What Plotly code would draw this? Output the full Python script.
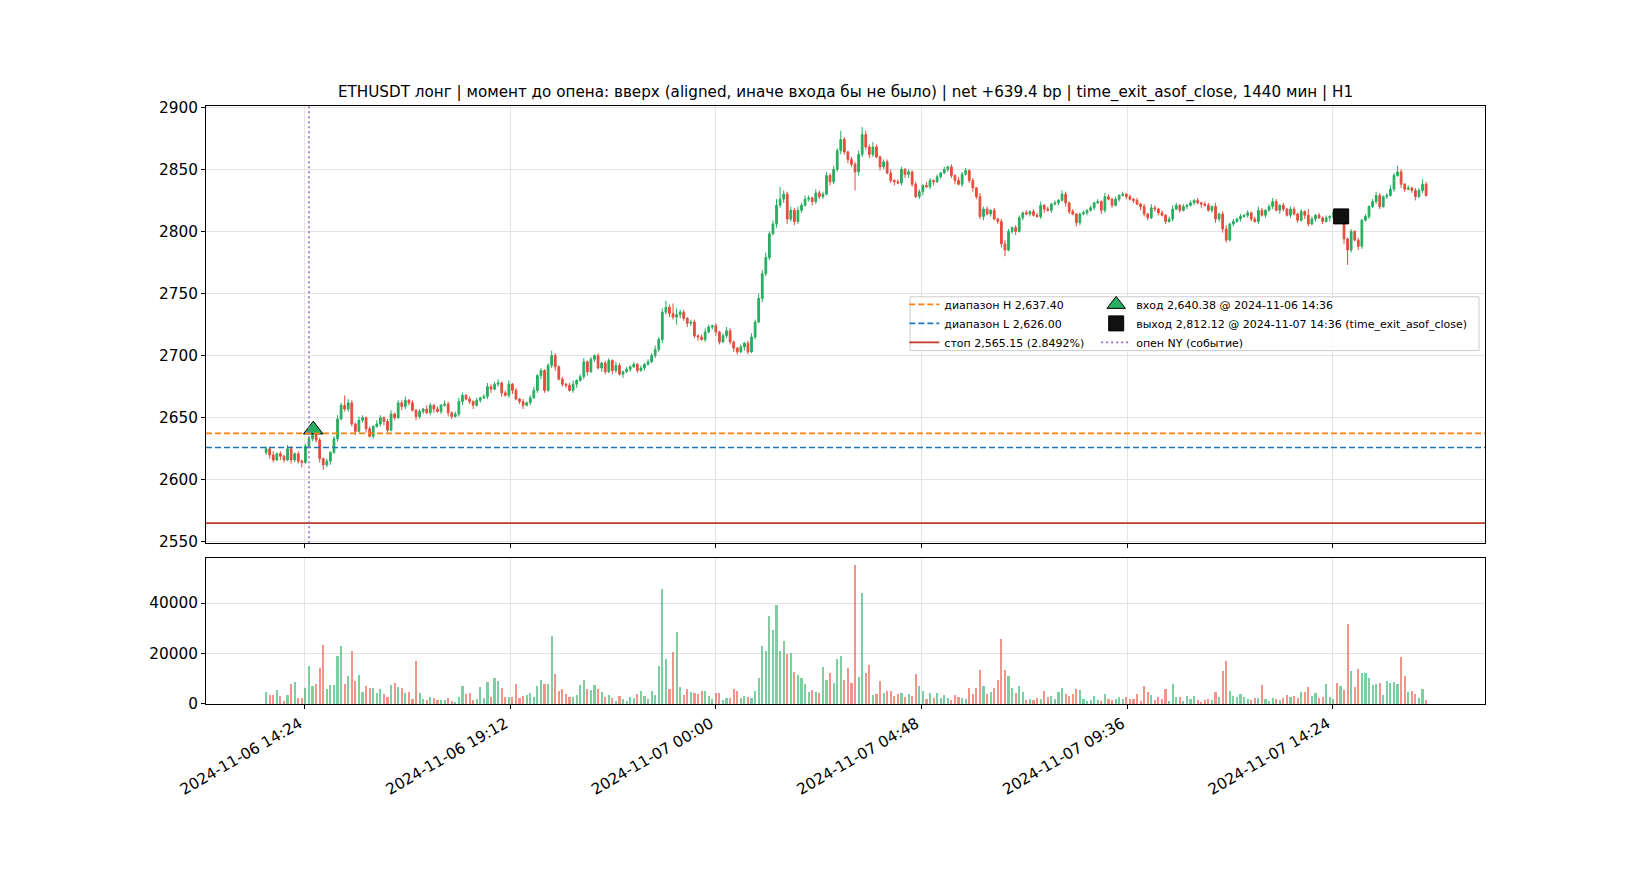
import plotly.graph_objects as go
import pandas as pd

# 5-minute candles, ETHUSDT
start = "2024-11-06 13:30"
n_bars = 326
times = pd.date_range(start, periods=n_bars, freq="5min")

first_open = 2622
closes = [
    2625, 2620, 2616, 2621, 2619, 2616, 2625, 2616, 2621, 2615, 2614, 2627,  # 13:30
    2633, 2636, 2632, 2617, 2612, 2615, 2622, 2633, 2649, 2660, 2657, 2662,  # 14:30
    2645, 2639, 2648, 2650, 2641, 2635, 2643, 2645, 2650, 2647, 2640, 2653,  # 15:30
    2650, 2662, 2659, 2664, 2662, 2656, 2651, 2655, 2657, 2654, 2660, 2657,  # 16:30
    2655, 2660, 2661, 2654, 2651, 2653, 2663, 2668, 2665, 2663, 2660, 2664,  # 17:30
    2666, 2667, 2675, 2673, 2677, 2678, 2670, 2668, 2677, 2672, 2665, 2663,  # 18:30
    2660, 2662, 2666, 2672, 2684, 2688, 2672, 2692, 2700, 2691, 2681, 2677,  # 19:30
    2676, 2672, 2677, 2680, 2683, 2695, 2687, 2697, 2700, 2690, 2694, 2687,  # 20:30
    2696, 2688, 2692, 2685, 2687, 2689, 2691, 2693, 2688, 2690, 2693, 2695,  # 21:30
    2700, 2705, 2713, 2735, 2739, 2734, 2731, 2733, 2735, 2730, 2726, 2727,  # 22:30
    2716, 2715, 2713, 2719, 2723, 2724, 2719, 2711, 2716, 2720, 2711, 2706,  # 23:30
    2703, 2707, 2710, 2703, 2715, 2727, 2746, 2766, 2779, 2798, 2806, 2821,  # 00:30
    2826, 2830, 2810, 2817, 2808, 2817, 2821, 2826, 2827, 2824, 2831, 2828,  # 01:30
    2830, 2845, 2840, 2850, 2865, 2874, 2864, 2858, 2854, 2848, 2862, 2878,  # 02:30
    2868, 2862, 2868, 2860, 2852, 2856, 2847, 2841, 2840, 2839, 2850, 2846,  # 03:30
    2848, 2838, 2828, 2832, 2837, 2836, 2841, 2840, 2844, 2847, 2850, 2852,  # 04:30
    2845, 2841, 2838, 2846, 2849, 2841, 2835, 2828, 2812, 2818, 2814, 2817,  # 05:30
    2810, 2808, 2790, 2785, 2800, 2803, 2800, 2811, 2815, 2814, 2816, 2813,  # 06:30
    2812, 2821, 2818, 2817, 2822, 2823, 2825, 2830, 2823, 2816, 2814, 2807,  # 07:30
    2814, 2815, 2817, 2819, 2823, 2824, 2817, 2828, 2826, 2821, 2826, 2829,  # 08:30
    2830, 2828, 2826, 2825, 2822, 2820, 2814, 2811, 2819, 2818, 2815, 2813,  # 09:30
    2808, 2810, 2818, 2821, 2817, 2820, 2821, 2823, 2825, 2823, 2822, 2821,  # 10:30
    2817, 2820, 2810, 2814, 2802, 2793, 2806, 2808, 2810, 2812, 2813, 2815,  # 11:30
    2810, 2808, 2817, 2813, 2817, 2820, 2824, 2817, 2821, 2818, 2813, 2818,  # 12:30
    2814, 2809, 2816, 2813, 2806, 2810, 2813, 2811, 2808, 2811, 2812, 2815,  # 13:30
    2811, 2813, 2794, 2785, 2800, 2793, 2788, 2809, 2812, 2820, 2824, 2829,  # 14:30
    2820, 2828, 2829, 2834, 2845, 2848, 2838, 2834, 2835, 2833, 2828, 2833,  # 15:30
    2838, 2829,                                                              # 16:30
]

# wick lengths above / below the body
wick_up = [
    2, 1, 3, 1, 2, 1, 3, 2, 1, 2, 1, 2,
    2, 4, 1, 2, 1, 2, 1, 2, 3, 2, 8, 3,
    2, 1, 3, 2, 1, 2, 1, 3, 2, 1, 2, 3,
    1, 2, 2, 3, 1, 2, 1, 2, 1, 3, 2, 1,
    2, 1, 3, 2, 1, 2, 3, 2, 1, 2, 1, 2,
    1, 2, 3, 2, 2, 3, 1, 2, 3, 1, 2, 1,
    2, 1, 2, 3, 1, 2, 1, 2, 4, 2, 1, 2,
    1, 2, 3, 1, 2, 3, 1, 2, 1, 2, 1, 2,
    2, 1, 3, 2, 1, 2, 1, 2, 1, 2, 1, 2,
    2, 3, 2, 3, 5, 2, 8, 5, 2, 2, 1, 2,
    2, 1, 2, 3, 2, 1, 2, 1, 2, 3, 2, 1,
    1, 2, 1, 2, 3, 2, 4, 3, 4, 2, 3, 5,
    10, 3, 2, 3, 2, 3, 2, 3, 2, 1, 3, 2,
    2, 3, 2, 3, 2, 7, 2, 1, 2, 2, 3, 6,
    3, 2, 4, 2, 1, 2, 2, 3, 1, 2, 2, 1,
    2, 1, 2, 2, 1, 3, 2, 1, 2, 1, 2, 1,
    2, 1, 3, 2, 2, 1, 2, 1, 3, 2, 2, 1,
    2, 1, 2, 3, 2, 1, 2, 2, 1, 2, 1, 2,
    2, 3, 1, 2, 1, 2, 1, 3, 2, 1, 2, 1,
    1, 2, 1, 2, 1, 2, 1, 3, 2, 1, 2, 1,
    2, 1, 2, 1, 2, 1, 2, 1, 3, 2, 1, 2,
    1, 2, 3, 2, 1, 2, 1, 2, 1, 2, 1, 2,
    2, 1, 3, 1, 2, 3, 1, 2, 1, 2, 1, 2,
    1, 2, 3, 2, 1, 2, 3, 2, 1, 2, 1, 2,
    2, 1, 2, 1, 5, 2, 1, 2, 1, 2, 1, 2,
    2, 3, 2, 1, 2, 1, 2, 1, 2, 1, 2, 3,
    2, 1, 2, 3, 2, 5, 2, 1, 2, 1, 2, 2,
    4, 2,
]
wick_dn = [
    2, 3, 2, 1, 3, 2, 1, 3, 2, 2, 4, 1,
    1, 2, 2, 3, 4, 2, 3, 1, 2, 1, 2, 2,
    2, 3, 1, 2, 3, 1, 2, 1, 2, 3, 2, 1,
    2, 1, 3, 2, 2, 1, 3, 2, 2, 1, 2, 3,
    1, 2, 1, 3, 2, 1, 2, 3, 1, 2, 3, 1,
    2, 1, 2, 3, 1, 2, 3, 1, 2, 3, 1, 2,
    3, 1, 2, 1, 2, 3, 2, 1, 2, 3, 1, 2,
    2, 1, 2, 3, 1, 2, 3, 1, 2, 1, 3, 2,
    1, 3, 2, 1, 3, 1, 2, 1, 2, 1, 2, 1,
    1, 2, 2, 3, 2, 3, 2, 6, 3, 2, 3, 2,
    2, 3, 1, 2, 1, 2, 3, 2, 1, 2, 2, 3,
    2, 1, 3, 2, 1, 2, 1, 3, 2, 2, 1, 3,
    2, 3, 4, 2, 3, 2, 2, 1, 2, 3, 2, 2,
    2, 1, 3, 2, 2, 3, 2, 3, 2, 15, 3, 2,
    2, 3, 2, 1, 3, 2, 1, 2, 3, 1, 2, 3,
    3, 2, 1, 2, 3, 1, 2, 3, 1, 2, 1, 2,
    2, 3, 1, 2, 1, 2, 3, 2, 2, 3, 1, 2,
    1, 2, 3, 5, 1, 2, 3, 1, 2, 1, 2, 1,
    1, 2, 3, 1, 2, 1, 2, 1, 3, 2, 1, 3,
    2, 1, 2, 1, 2, 1, 3, 2, 1, 2, 1, 2,
    1, 2, 1, 2, 1, 3, 2, 2, 1, 2, 2, 1,
    2, 1, 2, 1, 2, 1, 2, 1, 2, 1, 3, 1,
    1, 2, 3, 2, 3, 2, 1, 2, 1, 2, 1, 2,
    2, 1, 2, 1, 2, 1, 2, 1, 3, 2, 1, 2,
    1, 2, 1, 3, 2, 1, 2, 1, 2, 1, 3, 2,
    2, 1, 4, 12, 2, 1, 3, 2, 1, 2, 1, 2,
    2, 1, 2, 1, 2, 1, 3, 2, 1, 2, 3, 1,
    2, 1,
]

volumes = [
    4600, 3400, 3400, 5400, 3000, 1100, 3400, 7800, 8600, 2300, 2300, 6200,
    15000, 7000, 7800, 14200, 23300, 5800, 7400, 7400, 19000, 22900, 7800, 11000,
    20900, 9000, 11400, 4600, 7000, 6200, 6200, 4200, 5800, 3800, 2700, 7400,
    8200, 6600, 6200, 4200, 4600, 1900, 17000, 4200, 1900, 1500, 2700, 2300,
    1500, 1500, 1500, 2300, 1100, 700, 2700, 7000, 3800, 4200, 1500, 1900,
    6600, 2300, 8600, 2700, 10200, 9000, 6200, 2700, 2700, 2700, 7800, 2300,
    3000, 3400, 4200, 2700, 7000, 9400, 7800, 7800, 26900, 11800, 5000, 5800,
    3800, 2700, 2700, 3400, 7400, 9400, 5800, 5400, 7400, 5800, 4600, 2700,
    3400, 2300, 1100, 3000, 1900, 1100, 2700, 2300, 3800, 5000, 3000, 1900,
    5000, 3400, 15000, 45600, 17800, 5800, 20500, 28500, 6600, 3400, 5800, 4600,
    4200, 3800, 5000, 5000, 3000, 1900, 4200, 4200, 1500, 2300, 2300, 5800,
    5000, 2300, 3000, 2700, 2300, 5000, 10200, 22900, 20900, 34800, 29300, 39200,
    20900, 24900, 19700, 20100, 12600, 11400, 10200, 7800, 4600, 5400, 4600, 4200,
    14600, 9400, 12200, 8200, 17800, 19000, 9400, 14200, 8200, 55100, 10600, 44000,
    12200, 15400, 3400, 3800, 9000, 4200, 5000, 5000, 3000, 3800, 4200, 2700,
    3800, 3000, 11800, 7000, 5000, 1900, 4200, 2300, 4200, 2300, 3400, 2300,
    1500, 3400, 2700, 2300, 1900, 6200, 3800, 6200, 13400, 7000, 3800, 4600,
    6200, 9400, 25700, 13400, 11000, 6200, 4200, 7000, 4600, 1500, 1900, 1500,
    2300, 1900, 5000, 2700, 3000, 1900, 4600, 6200, 3800, 3000, 3800, 5800,
    5400, 1900, 1100, 1500, 3000, 1500, 1100, 3800, 1900, 1500, 1900, 2700,
    1900, 2700, 1900, 1900, 3800, 1100, 7000, 4600, 3400, 1500, 2700, 1900,
    5800, 1100, 7800, 2700, 2700, 1100, 3000, 1900, 3000, 1500, 700, 1500,
    1900, 1500, 4600, 2700, 13000, 17000, 5000, 3000, 2700, 3800, 2700, 1900,
    1500, 2300, 2300, 7400, 1900, 1100, 2300, 1900, 1500, 2300, 3400, 2700,
    3000, 2300, 4600, 4600, 6600, 3000, 4200, 2300, 2700, 7800, 2700, 1900,
    8200, 7000, 5400, 31700, 13000, 6600, 13800, 12200, 12200, 10200, 7400, 7800,
    8200, 3400, 9000, 8200, 8600, 7800, 18500, 11000, 4600, 5000, 3800, 2300,
    5800, 1500,
]

range_h = 2637.40
range_l = 2626.00
stop_price = 2565.15
stop_pct = 2.8492
entry_time = "2024-11-06 14:36"
entry_price = 2640.38
exit_time = "2024-11-07 14:36"
exit_price = 2812.12
ny_open = "2024-11-06 14:30"

tick_times = ["2024-11-06 14:24", "2024-11-06 19:12", "2024-11-07 00:00",
              "2024-11-07 04:48", "2024-11-07 09:36", "2024-11-07 14:24"]

opens = [first_open] + closes[:-1]
highs = [max(o, c) + w for o, c, w in zip(opens, closes, wick_up)]
lows = [min(o, c) - w for o, c, w in zip(opens, closes, wick_dn)]

GREEN = "#27ae60"
RED = "#e74c3c"
vol_colors = ["rgba(39,174,96,0.6)" if c >= o else "rgba(231,76,60,0.6)"
              for o, c in zip(opens, closes)]

FONT = "DejaVu Sans"
GRID = "#e4e4e4"
x_range = ["2024-11-06 12:05:45", "2024-11-07 17:57:30"]

fig = go.Figure()

fig.add_trace(go.Candlestick(
    x=times, open=opens, high=highs, low=lows, close=closes,
    increasing=dict(line=dict(color=GREEN, width=1), fillcolor=GREEN),
    decreasing=dict(line=dict(color=RED, width=1), fillcolor=RED),
    whiskerwidth=0, showlegend=False, xaxis="x", yaxis="y",
))

fig.add_trace(go.Bar(
    x=times, y=volumes, marker=dict(color=vol_colors, line=dict(width=0)),
    width=3 * 60 * 1000, showlegend=False, xaxis="x2", yaxis="y2",
))

fig.add_trace(go.Scatter(
    x=[entry_time], y=[entry_price], mode="markers",
    marker=dict(symbol="triangle-up", size=17, color=GREEN,
                line=dict(color="black", width=1)),
    name=f"вход {entry_price:,.2f} @ {entry_time}",
    legend="legend2", legendrank=1, xaxis="x", yaxis="y",
))
fig.add_trace(go.Scatter(
    x=[exit_time], y=[exit_price], mode="markers",
    marker=dict(symbol="square", size=15, color="#111111",
                line=dict(color="black", width=1)),
    name=f"выход {exit_price:,.2f} @ {exit_time} (time_exit_asof_close)",
    legend="legend2", legendrank=2, xaxis="x", yaxis="y",
))

fig.add_shape(type="line", xref="x domain", x0=0, x1=1, yref="y", y0=range_h, y1=range_h,
              line=dict(color="#ff7f0e", width=1.6, dash="6px,3px"),
              showlegend=True, name=f"диапазон H {range_h:,.2f}", legend="legend", legendrank=1)
fig.add_shape(type="line", xref="x domain", x0=0, x1=1, yref="y", y0=range_l, y1=range_l,
              line=dict(color="#1f77b4", width=1.6, dash="6px,3px"),
              showlegend=True, name=f"диапазон L {range_l:,.2f}", legend="legend", legendrank=2)
fig.add_shape(type="line", xref="x domain", x0=0, x1=1, yref="y", y0=stop_price, y1=stop_price,
              line=dict(color="#c0392b", width=1.6),
              showlegend=True, name=f"стоп {stop_price:,.2f} ({stop_pct:.4f}%)",
              legend="legend", legendrank=3)
fig.add_shape(type="line", xref="x", x0=ny_open, x1=ny_open, yref="y domain", y0=0, y1=1,
              line=dict(color="#9467bd", width=1.6, dash="2px,3px"),
              showlegend=True, name="опен NY (событие)", legend="legend2", legendrank=3)

# legend frame
fig.add_shape(type="rect", xref="paper", yref="paper", x0=0.5505, x1=0.9953, y0=0.591, y1=0.681,
              line=dict(color="#cccccc", width=1), fillcolor="rgba(255,255,255,0.8)", layer="above")

axis_common = dict(showline=True, linecolor="black", linewidth=1, mirror=True,
                   ticks="outside", ticklen=4, tickcolor="black",
                   showgrid=True, gridcolor=GRID, gridwidth=1, zeroline=False,
                   tickfont=dict(family=FONT, size=15.3, color="black"))

fig.update_layout(
    width=1650, height=880,
    paper_bgcolor="white", plot_bgcolor="white",
    margin=dict(l=198, r=173, t=98, b=184),
    font=dict(family=FONT, color="black"),
    title=dict(
        text="ETHUSDT лонг | момент до опена: вверх (aligned, иначе входа бы не было) | "
             "net +639.4 bp | time_exit_asof_close, 1440 мин | H1",
        x=0.5, xref="paper", xanchor="center",
        y=0.905, yref="container", yanchor="middle",
        font=dict(family=FONT, size=15.2, color="black"),
    ),
    xaxis=dict(axis_common, anchor="y", domain=[0, 1], range=x_range,
               tickvals=tick_times, showticklabels=False,
               rangeslider=dict(visible=False)),
    yaxis=dict(axis_common, anchor="x", domain=[0.269, 1.0],
               range=[2549, 2901], tick0=2550, dtick=50),
    xaxis2=dict(axis_common, anchor="y2", domain=[0, 1], matches="x", range=x_range,
                tickvals=tick_times, tickformat="%Y-%m-%d %H:%M", tickangle=-30,
                ticklabelshift=-5),
    yaxis2=dict(axis_common, anchor="x2", domain=[0, 0.244],
                range=[0, 57800], tickvals=[0, 20000, 40000], tickformat="d"),
    legend=dict(x=0.546, y=0.6925, xanchor="left", yanchor="top",
                bgcolor="rgba(0,0,0,0)", font=dict(family=FONT, size=11),
                itemwidth=30, tracegroupgap=0),
    legend2=dict(x=0.696, y=0.6925, xanchor="left", yanchor="top",
                 bgcolor="rgba(0,0,0,0)", font=dict(family=FONT, size=11),
                 itemwidth=30, tracegroupgap=0),
    bargap=0,
)

fig.write_html("out.html")
